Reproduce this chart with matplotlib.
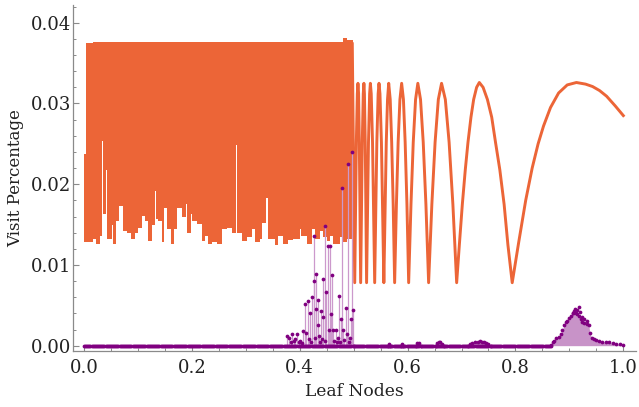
import numpy as np
import matplotlib
matplotlib.use("Agg")
import matplotlib.pyplot as plt
from matplotlib.ticker import MultipleLocator

# ---------------- data ----------------
# dense orange band (x < 0.5): step segments start x, lower edge, upper edge
band_x = [0.000, 0.003, 0.017, 0.022, 0.030, 0.033, 0.035, 0.041, 0.043, 0.052,
          0.054, 0.059, 0.065, 0.072, 0.080, 0.087, 0.094, 0.100, 0.107, 0.113,
          0.119, 0.126, 0.132, 0.134, 0.137, 0.144, 0.148, 0.154, 0.161, 0.166,
          0.167, 0.172, 0.181, 0.189, 0.191, 0.198, 0.200, 0.209, 0.218, 0.224,
          0.230, 0.237, 0.246, 0.256, 0.265, 0.274, 0.281, 0.283, 0.293, 0.302,
          0.311, 0.317, 0.326, 0.331, 0.338, 0.341, 0.354, 0.359, 0.369, 0.378,
          0.387, 0.400, 0.402, 0.413, 0.422, 0.428, 0.437, 0.443, 0.450, 0.456,
          0.461, 0.474, 0.480, 0.487]
band_low = [0.0128, 0.0128, 0.0132, 0.0126, 0.0136, 0.0254, 0.0163, 0.0217, 0.0132, 0.0150,
            0.0126, 0.0155, 0.0173, 0.0142, 0.0139, 0.0132, 0.0139, 0.0146, 0.0161, 0.0155,
            0.0130, 0.0149, 0.0192, 0.0157, 0.0155, 0.0128, 0.0171, 0.0145, 0.0126, 0.0134,
            0.0145, 0.0171, 0.0160, 0.0176, 0.0139, 0.0163, 0.0154, 0.0151, 0.0130, 0.0136,
            0.0126, 0.0128, 0.0126, 0.0145, 0.0146, 0.0139, 0.0248, 0.0140, 0.0130, 0.0134,
            0.0145, 0.0128, 0.0132, 0.0152, 0.0183, 0.0132, 0.0125, 0.0136, 0.0126, 0.0131,
            0.0132, 0.0145, 0.0136, 0.0126, 0.0145, 0.0132, 0.0142, 0.0134, 0.0130, 0.0136,
            0.0126, 0.0134, 0.0128, 0.0132]
band_top = [0.0238, 0.0375, 0.0376, 0.0376, 0.0376, 0.0376, 0.0376, 0.0376, 0.0376, 0.0376,
            0.0376, 0.0376, 0.0376, 0.0376, 0.0376, 0.0376, 0.0376, 0.0376, 0.0376, 0.0376,
            0.0376, 0.0376, 0.0376, 0.0376, 0.0376, 0.0376, 0.0376, 0.0376, 0.0376, 0.0376,
            0.0376, 0.0376, 0.0376, 0.0376, 0.0376, 0.0376, 0.0376, 0.0376, 0.0376, 0.0376,
            0.0376, 0.0376, 0.0376, 0.0376, 0.0376, 0.0376, 0.0376, 0.0376, 0.0376, 0.0376,
            0.0376, 0.0376, 0.0376, 0.0376, 0.0376, 0.0376, 0.0376, 0.0376, 0.0376, 0.0376,
            0.0376, 0.0376, 0.0376, 0.0376, 0.0376, 0.0376, 0.0376, 0.0376, 0.0376, 0.0376,
            0.0376, 0.0376, 0.0381, 0.0379]
band_end = 0.4985

# orange curve for x > 0.5
curve_x = [0.4975, 0.502,
           0.505, 0.5068, 0.508, 0.5092, 0.5105, 0.513,
           0.516, 0.5178, 0.519, 0.520, 0.5215, 0.524,
           0.5275, 0.5296, 0.531, 0.5326, 0.535, 0.539,
           0.543, 0.5454, 0.547, 0.5488, 0.5515, 0.556,
           0.5585, 0.5605, 0.5628, 0.565, 0.5678, 0.5705, 0.5733, 0.576,
           0.5793, 0.5825, 0.5858, 0.589, 0.5923, 0.5955, 0.5988, 0.602,
           0.6063, 0.6105, 0.6148, 0.619, 0.624, 0.629, 0.634, 0.639,
           0.645, 0.651, 0.657, 0.663, 0.670, 0.677, 0.684, 0.691,
           0.696, 0.7015, 0.707, 0.712, 0.7175, 0.7225, 0.728, 0.733,
           0.740, 0.748, 0.756, 0.763, 0.771, 0.779, 0.786, 0.794,
           0.806, 0.819, 0.831, 0.842, 0.852, 0.865, 0.880, 0.896, 0.913,
           0.930, 0.943, 0.956, 0.969, 0.985, 1.000]
curve_y = [0.0374, 0.0078,
           0.0252, 0.0312, 0.0325, 0.0312, 0.0252, 0.0078,
           0.0252, 0.0312, 0.0325, 0.0312, 0.0252, 0.0078,
           0.0252, 0.0312, 0.0325, 0.0312, 0.0252, 0.0078,
           0.0252, 0.0312, 0.0325, 0.0312, 0.0252, 0.0078,
           0.0175, 0.0252, 0.0305, 0.0325, 0.0305, 0.0252, 0.0175, 0.0078,
           0.0175, 0.0252, 0.0305, 0.0325, 0.0305, 0.0252, 0.0175, 0.0078,
           0.0175, 0.0252, 0.0305, 0.0325, 0.0305, 0.0252, 0.0175, 0.0078,
           0.0175, 0.0252, 0.0305, 0.0325, 0.0305, 0.0252, 0.0175, 0.0078,
           0.0125, 0.0175, 0.0218, 0.0252, 0.0283, 0.0305, 0.0320, 0.0326,
           0.0320, 0.0305, 0.0283, 0.0252, 0.0218, 0.0175, 0.0125, 0.0078,
           0.0128, 0.0180, 0.0220, 0.0250, 0.0272, 0.0295, 0.0313, 0.0323, 0.0326,
           0.0324, 0.0321, 0.0316, 0.0309, 0.0297, 0.0285]

# purple: leaves with zero visits (baseline)
base_x = np.arange(0.0, 0.866, 0.002)
base_y = np.zeros_like(base_x)

# purple: scattered visits between 0.37 and 0.5
scat_x = [0.376, 0.380, 0.383, 0.386, 0.389, 0.391, 0.395, 0.398, 0.401, 0.404,
          0.407, 0.409, 0.412, 0.415, 0.417, 0.419, 0.421, 0.423, 0.426, 0.4265,
          0.428, 0.430, 0.431, 0.433, 0.434, 0.436, 0.438, 0.440, 0.442, 0.443,
          0.444, 0.446, 0.447, 0.449, 0.452, 0.454, 0.456, 0.458, 0.460, 0.462,
          0.464, 0.467, 0.469, 0.471, 0.473, 0.475, 0.477, 0.479, 0.481, 0.483,
          0.486, 0.488, 0.4895, 0.491, 0.493, 0.496, 0.4975, 0.499]
scat_y = [0.0012, 0.0010, 0.0005, 0.0014, 0.0006, 0.0008, 0.0015, 0.0004, 0.0006, 0.0003,
          0.0018, 0.0052, 0.0016, 0.0055, 0.0008, 0.0040, 0.0005, 0.0060, 0.0080, 0.0136,
          0.0010, 0.0045, 0.0089, 0.0025, 0.0056, 0.0012, 0.0004, 0.0043, 0.0008, 0.0083,
          0.0035, 0.0006, 0.0148, 0.0066, 0.0124, 0.0019, 0.0123, 0.0039, 0.0087, 0.0019,
          0.0006, 0.0019, 0.0005, 0.0010, 0.0061, 0.0004, 0.0033, 0.0195, 0.0019, 0.0007,
          0.0047, 0.0014, 0.0225, 0.0005, 0.0009, 0.0033, 0.0240, 0.0044]

# purple: small bumps after 0.5
small_x = [0.500, 0.563, 0.565, 0.567, 0.587, 0.589, 0.591, 0.615, 0.618, 0.621,
           0.624, 0.652, 0.655, 0.658, 0.661, 0.664, 0.667, 0.712, 0.716, 0.720,
           0.725, 0.730, 0.734, 0.738, 0.742, 0.746, 0.750, 0.754, 0.866]
small_y = [0.0, 0.0, 0.0002, 0.0, 0.0, 0.0002, 0.0, 0.0, 0.0003, 0.0003,
           0.0, 0.0, 0.0003, 0.0004, 0.0004, 0.0002, 0.0, 0.0, 0.0002, 0.0003,
           0.0004, 0.0005, 0.0006, 0.0005, 0.0004, 0.0003, 0.0002, 0.0, 0.0]

# purple: large bump near 0.9
bump_x = [0.866, 0.869, 0.872, 0.876, 0.880, 0.884, 0.887, 0.890, 0.893, 0.896,
          0.900, 0.903, 0.906, 0.909, 0.912, 0.915, 0.918, 0.921, 0.924, 0.928,
          0.932, 0.936, 0.938, 0.941, 0.945, 0.950, 0.955, 0.961, 0.967, 0.974,
          0.980, 0.987, 0.993, 1.000]
bump_y = [0.0001, 0.0004, 0.0006, 0.0009, 0.0011, 0.0014, 0.0019, 0.0026, 0.0029, 0.0031,
          0.0034, 0.0037, 0.0040, 0.0043, 0.0041, 0.0039, 0.0037, 0.0033, 0.0029, 0.0028,
          0.0027, 0.0025, 0.0016, 0.0010, 0.0008, 0.0007, 0.0006, 0.0005, 0.0004, 0.0004,
          0.0003, 0.0002, 0.0002, 0.0001]
bump_extra_x = [0.906, 0.910, 0.914, 0.917, 0.920, 0.923, 0.928, 0.933]
bump_extra_y = [0.0040, 0.0045, 0.0044, 0.0048, 0.0042, 0.0036, 0.0033, 0.0031]

x_label = "Leaf Nodes"
y_label = "Visit Percentage"

# ---------------- drawing ----------------
ORANGE = "#ec6537"
PURPLE = "#800080"
LILAC = "#cc99cc"
AXIS = "#8a8a8a"

plt.rcParams['font.family'] = ['DejaVu Serif']
fig = plt.figure(figsize=(6.39, 4.07), dpi=100)
ax = fig.add_axes([0.1147, 0.1376, 0.8806, 0.8501])

# orange band
bx = band_x + [band_end]
bl = band_low + [band_low[-1]]
bt = band_top + [band_top[-1]]
ax.fill_between(bx, bl, bt, step='post', color=ORANGE, linewidth=0, zorder=1)
ax.plot(curve_x, curve_y, color=ORANGE, lw=2.1, solid_joinstyle='round', zorder=1)

# purple series
ax.vlines(scat_x, 0, scat_y, color=LILAC, lw=0.9, zorder=2)
ax.fill_between(small_x, 0, small_y, color=LILAC, linewidth=0, zorder=2)
ax.fill_between(bump_x, 0, bump_y, color="#c893c8", linewidth=0, zorder=2)
dot = dict(ls='none', marker='o', ms=2.7, color=PURPLE, mec='none', zorder=3)
ax.plot(base_x, base_y, **dot)
ax.plot(small_x, small_y, **dot)
ax.plot(bump_x, bump_y, **dot)
ax.plot(bump_extra_x, bump_extra_y, **dot)
ax.plot(scat_x, scat_y, **dot)

# axes styling (Mathematica-like)
ax.set_xlim(-0.0198, 1.0235)
ax.set_ylim(-0.00066, 0.0422)
for s in ['top', 'right']:
    ax.spines[s].set_visible(False)
for s in ['left', 'bottom']:
    ax.spines[s].set_color(AXIS)
    ax.spines[s].set_linewidth(0.9)
ax.xaxis.set_major_locator(MultipleLocator(0.2))
ax.xaxis.set_minor_locator(MultipleLocator(0.05))
ax.yaxis.set_major_locator(MultipleLocator(0.01))
ax.yaxis.set_minor_locator(MultipleLocator(0.002))
ax.set_xticks([0.0, 0.2, 0.4, 0.6, 0.8, 1.0])
ax.set_xticklabels(["0.0", "0.2", "0.4", "0.6", "0.8", "1.0"])
ax.set_yticks([0.0, 0.01, 0.02, 0.03, 0.04])
ax.set_yticklabels(["0.00", "0.01", "0.02", "0.03", "0.04"])
ax.tick_params(which='major', direction='in', length=4, width=0.8, color=AXIS,
               labelsize=13, labelcolor='#222222')
ax.tick_params(which='minor', direction='in', length=2.3, width=0.7, color=AXIS)
ax.tick_params(axis='x', which='major', pad=6)
ax.tick_params(axis='y', which='major', pad=1.5)
ax.set_xlabel(x_label, fontsize=12.3, color='#222222', labelpad=4)
ax.set_ylabel(y_label, fontsize=12, color='#222222', labelpad=5)

fig.savefig("out.png", dpi=100)
